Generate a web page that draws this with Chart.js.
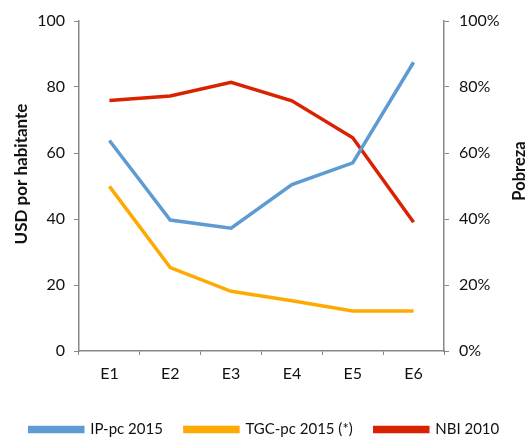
<!DOCTYPE html>
<html><head><meta charset="utf-8">
<script src="https://cdn.jsdelivr.net/npm/chart.js@4"></script>
<style>html,body{margin:0;padding:0;background:#fff}#wrap{width:529px;height:437px}</style>
</head><body><div id="wrap"><canvas id="c" width="529" height="437"></canvas></div>
<script>
const categories = ["E1","E2","E3","E4","E5","E6"];
const ipPc2015 = [63.8, 39.7, 37.2, 50.4, 57.0, 87.5];
const tgcPc2015 = [49.9, 25.3, 18.1, 15.2, 12.1, 12.1];
const nbi2010 = [0.759, 0.773, 0.814, 0.758, 0.646, 0.390];
const leftTicks = [0,20,40,60,80,100];
const rightTicks = [0,0.2,0.4,0.6,0.8,1.0];
const leftTitle = 'USD por habitante';
const rightTitle = 'Pobreza';

const FONT = "Lato, 'Open Sans', sans-serif";
Chart.defaults.font.family = FONT;
Chart.defaults.color = "#111";

function vText(ctx, text, x, y, size) {
  ctx.save();
  ctx.translate(x, y);
  ctx.rotate(-Math.PI / 2);
  ctx.textAlign = 'center';
  ctx.textBaseline = 'middle';
  ctx.fillStyle = '#111';
  ctx.font = "bold " + size + "px " + FONT;
  ctx.fillText(text, 0, 0);
  ctx.restore();
}

const axisTitlePlugin = {
  id: 'axisTitles',
  afterDraw(chart) {
    const {ctx, chartArea} = chart;
    const mid = (chartArea.top + chartArea.bottom) / 2;
    vText(ctx, leftTitle, 22, mid - 12, 17);
    vText(ctx, rightTitle, 520, mid - 15, 16.5);
  }
};

new Chart(document.getElementById('c'), {
  type: 'line',
  data: {
    labels: categories,
    datasets: [
      {label: 'IP-pc 2015', data: ipPc2015, borderColor: '#5F9BD3', backgroundColor: '#5F9BD3', yAxisID: 'y', borderWidth: 3.5, pointRadius: 0, tension: 0},
      {label: 'TGC-pc 2015 (*)', data: tgcPc2015, borderColor: '#FFAA00', backgroundColor: '#FFAA00', yAxisID: 'y', borderWidth: 3.5, pointRadius: 0, tension: 0},
      {label: 'NBI 2010', data: nbi2010, borderColor: '#D92200', backgroundColor: '#D92200', yAxisID: 'y1', borderWidth: 3.5, pointRadius: 0, tension: 0}
    ]
  },
  options: {
    responsive: false,
    animation: false,
    layout: {padding: {top: 21, left: 0, right: 0, bottom: -10}},
    plugins: {
      tooltip: {enabled: false},
      legend: {
        position: 'bottom',
        labels: {boxWidth: 53, boxHeight: 4, padding: 22, font: {size: 15}, color: '#111'}
      }
    },
    scales: {
      x: {
        offset: true,
        grid: {display: true, drawOnChartArea: false, offset: true, tickLength: 4, color: '#888'},
        border: {color: '#888', width: 1.5},
        ticks: {font: {size: 16}, padding: 9, color: '#111'},
        afterFit: s => { s.height = 49; }
      },
      y: {
        position: 'left', min: 0, max: 100,
        afterBuildTicks: s => { s.ticks = leftTicks.map(v => ({value: v})); },
        grid: {display: true, drawOnChartArea: false, tickLength: 5, color: '#888'},
        border: {color: '#888', width: 1.5},
        ticks: {font: {size: 16}, padding: 9, color: '#111'},
        afterFit: s => { s.width = 79; }
      },
      y1: {
        position: 'right', min: 0, max: 1,
        afterBuildTicks: s => { s.ticks = rightTicks.map(v => ({value: v})); },
        grid: {display: true, drawOnChartArea: false, tickLength: 5, color: '#888'},
        border: {color: '#888', width: 1.5},
        ticks: {font: {size: 16}, padding: 10, color: '#111', callback: v => Math.round(v*100) + '%'},
        afterFit: s => { s.width = 85; }
      }
    }
  },
  plugins: [axisTitlePlugin]
});
</script></body></html>
